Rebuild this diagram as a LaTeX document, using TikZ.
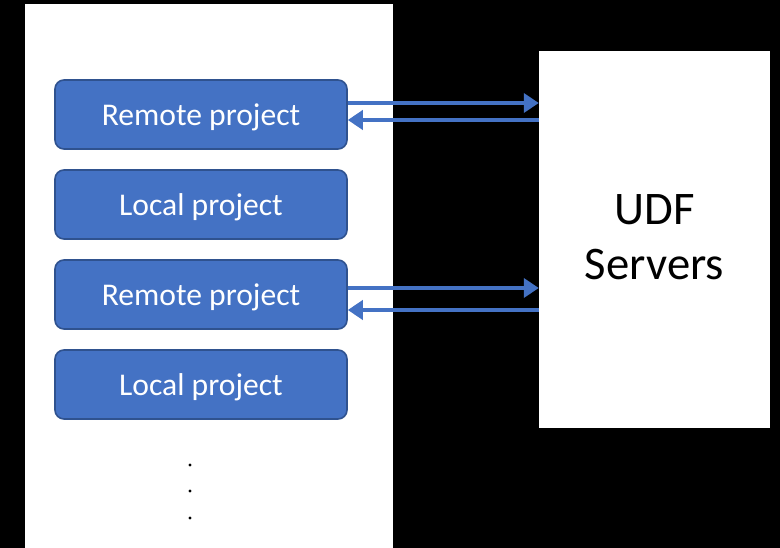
\documentclass[tikz,border=0pt]{standalone}
\usepackage{fontspec}
\setmainfont{Carlito}
\usetikzlibrary{arrows.meta}
\definecolor{projfill}{HTML}{4472C4}
\definecolor{projedge}{HTML}{2F528F}
\tikzset{
  proj/.style={draw=projedge, line width=1.6pt, fill=projfill, rounded corners=9pt,
    minimum width=292pt, minimum height=69pt, text=white, inner sep=0pt,
    text depth=0pt, font=\fontsize{31.6pt}{36pt}\selectfont},
  link/.style={draw=projfill, line width=4pt, -{Triangle[length=15pt,width=19pt]}},
  dot/.style={circle, fill=black, inner sep=0pt, minimum size=3.4pt}
}
\begin{document}
\begin{tikzpicture}[x=1pt,y=-1pt]
  \useasboundingbox (0,0) rectangle (780,548);
  \fill[black] (0,0) rectangle (780,548);
  % client panel and server box
  \fill[white] (25,4) rectangle (393,548);
  \node[fill=white, minimum width=231pt, minimum height=377pt, inner sep=0pt] (srv) at (654.5,239.5) {};
  \node[align=center, inner sep=0pt, font=\fontsize{46.7pt}{55pt}\selectfont] (srvlabel) at (654.5,237) {UDF\\Servers};
  % projects
  \node[proj] (p1) at (201,114.5) {Remote project};
  \node[proj] (p2) at (201,204.5) {Local project};
  \node[proj] (p3) at (201,294.5) {Remote project};
  \node[proj] (p4) at (201,384.5) {Local project};
  % request / response arrows
  \draw[link] (p1.east |- 0,103) -- (srv.west |- 0,103);
  \draw[link] (srv.west |- 0,120) -- (p1.east |- 0,120);
  \draw[link] (p3.east |- 0,288) -- (srv.west |- 0,288);
  \draw[link] (srv.west |- 0,310) -- (p3.east |- 0,310);
  % continuation dots
  \node[dot] (d1) at (190,465) {};
  \node[dot] (d2) at (190,491) {};
  \node[dot] (d3) at (190,518) {};
\end{tikzpicture}
\end{document}
